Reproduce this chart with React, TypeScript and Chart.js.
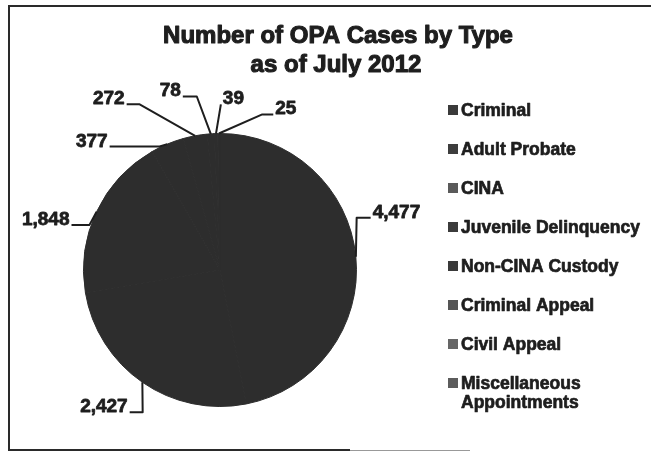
import React, { useEffect, useRef } from "react";
import { Chart, registerables } from "chart.js";

Chart.register(...registerables);

const TITLE_LINES = ["Number of OPA Cases by Type", "as of July 2012"];
const CATEGORIES = [
  "Criminal",
  "Adult Probate",
  "CINA",
  "Juvenile Delinquency",
  "Non-CINA Custody",
  "Criminal Appeal",
  "Civil Appeal",
  "Miscellaneous Appointments",
];
const CASES = [4477, 2427, 1848, 377, 272, 78, 39, 25];
const SLICE_COLORS = ["#2d2d2d", "#2d2d2d", "#2d2d2d", "#2d2d2d", "#2d2d2d", "#2d2d2d", "#2d2d2d", "#2d2d2d"];
const LEGEND_COLORS = ["#3a3a3a", "#3d3d3d", "#5a5a5a", "#3b3b3b", "#3a3a3a", "#555555", "#666666", "#5c5c5c"];

// label placement (polar, relative to pie centre/radius) – layout only
const LABEL_LAYOUT = [
  { angle: 70.9, dist: 1.168, stub: 14, side: "right" },
  { angle: 212.4, dist: 1.235, stub: 13, side: "left" },
  { angle: 286.9, dist: 1.137, stub: 18, side: "left" },
  { angle: 318.2, dist: 1.213, stub: 50, side: "left" },
  { angle: 330.6, dist: 1.393, stub: 13, side: "left" },
  { angle: 347.9, dist: 1.3, stub: 14, side: "left" },
  { angle: 0.3, dist: 1.213, stub: 0, side: "right" },
  { angle: 18.9, dist: 1.205, stub: 11, side: "right" },
];

const FONT = '"Liberation Sans", Arial, sans-serif';
const INK = "#1e1e1e";

function wrap(ctx: CanvasRenderingContext2D, text: string, maxW: number): string[] {
  const words = text.split(" ");
  const lines: string[] = [];
  let cur = "";
  for (const w of words) {
    const t = cur ? cur + " " + w : w;
    if (ctx.measureText(t).width > maxW && cur) {
      lines.push(cur);
      cur = w;
    } else cur = t;
  }
  if (cur) lines.push(cur);
  return lines;
}

function heavyText(ctx: CanvasRenderingContext2D, t: string, x: number, y: number, w: number) {
  ctx.fillText(t, x, y);
  ctx.lineWidth = w;
  ctx.lineJoin = "round";
  ctx.strokeStyle = INK;
  ctx.strokeText(t, x, y);
}

const decorPlugin = {
  id: "decor",
  afterDraw(chart: any) {
    const ctx: CanvasRenderingContext2D = chart.ctx;
    ctx.save();
    // frame
    ctx.strokeStyle = "#2a2a2a";
    ctx.lineWidth = 2;
    ctx.beginPath();
    ctx.moveTo(651, 6);
    ctx.lineTo(9, 6);
    ctx.lineTo(9, 450);
    ctx.lineTo(350, 450);
    ctx.stroke();
    ctx.strokeStyle = "#999";
    ctx.lineWidth = 1;
    ctx.beginPath();
    ctx.moveTo(350, 450.5);
    ctx.lineTo(470, 450.5);
    ctx.stroke();

    // title
    ctx.fillStyle = INK;
    ctx.textAlign = "center";
    ctx.textBaseline = "alphabetic";
    ctx.font = `bold 24px ${FONT}`;
    heavyText(ctx, TITLE_LINES[0], 338, 43, 1.1);
    heavyText(ctx, TITLE_LINES[1], 336, 72, 1.1);

    // legend
    ctx.font = `bold 17.5px ${FONT}`;
    ctx.textAlign = "left";
    ctx.textBaseline = "middle";
    CATEGORIES.forEach((c, i) => {
      const yc = 110 + 39 * i;
      ctx.fillStyle = LEGEND_COLORS[i];
      ctx.fillRect(448, yc - 5, 10, 10);
      ctx.fillStyle = INK;
      const lines = wrap(ctx, c, 186);
      lines.forEach((ln, j) => heavyText(ctx, ln, 461, yc + 1 + j * 19, 0.7));
    });

    // data labels with leader lines
    const meta = chart.getDatasetMeta(0);
    ctx.font = `bold 19px ${FONT}`;
    ctx.textBaseline = "alphabetic";
    meta.data.forEach((arc: any, i: number) => {
      const { x, y, startAngle, endAngle, outerRadius } = arc.getProps(
        ["x", "y", "startAngle", "endAngle", "outerRadius"],
        true
      );
      const mid = (startAngle + endAngle) / 2;
      const ax = x + Math.cos(mid) * outerRadius;
      const ay = y + Math.sin(mid) * outerRadius;
      const L = LABEL_LAYOUT[i];
      const a = ((L.angle - 90) * Math.PI) / 180;
      const px = x + Math.cos(a) * outerRadius * L.dist;
      const py = y + Math.sin(a) * outerRadius * L.dist;
      const dir = L.side === "left" ? 1 : -1;
      const ex = px + dir * L.stub;
      ctx.strokeStyle = INK;
      ctx.lineWidth = 2;
      ctx.beginPath();
      ctx.moveTo(px, py);
      ctx.lineTo(ex, py);
      ctx.lineTo(ax, ay);
      ctx.stroke();
      ctx.fillStyle = INK;
      ctx.textAlign = L.side === "left" ? "right" : "left";
      const txt = CASES[i].toLocaleString("en-US");
      heavyText(ctx, txt, px - dir * 2, py, 0.8);
    });
    ctx.restore();
  },
};

export default function App() {
  const ref = useRef<HTMLCanvasElement | null>(null);
  useEffect(() => {
    if (!ref.current) return;
    const chart = new Chart(ref.current, {
      type: "pie",
      data: {
        labels: CATEGORIES,
        datasets: [
          {
            data: CASES,
            backgroundColor: SLICE_COLORS,
            borderColor: SLICE_COLORS,
            borderWidth: 1,
          },
        ],
      },
      options: {
        animation: false,
        responsive: false,
        maintainAspectRatio: false,
        devicePixelRatio: 1,
        layout: { padding: { left: 83, right: 294, top: 133, bottom: 48 } },
        plugins: {
          legend: { display: false },
          title: { display: false },
          tooltip: { enabled: false },
        },
      },
      plugins: [decorPlugin],
    });
    return () => chart.destroy();
  }, []);
  return (
    <div style={{ position: "fixed", left: 0, top: 0, width: 651, height: 455, background: "#fff" }}>
      <canvas ref={ref} width={651} height={455} style={{ width: 651, height: 455, display: "block" }} />
    </div>
  );
}
